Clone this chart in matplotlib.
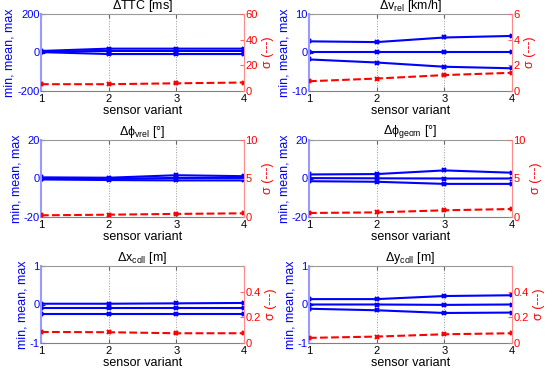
import numpy as np
import matplotlib
matplotlib.use('Agg')
import matplotlib.pyplot as plt

plt.rcParams['font.family'] = ['Liberation Sans', 'DejaVu Sans']
plt.rcParams['mathtext.fontset'] = 'custom'
plt.rcParams['mathtext.rm'] = 'Liberation Sans'
plt.rcParams['mathtext.it'] = 'Liberation Sans'

variants = [1, 2, 3, 4]

titles = [r'$\Delta$TTC [ms]', r'$\Delta$v$_\mathrm{rel}$ [km/h]',
          r'$\Delta\phi_\mathrm{vrel}$ [°]', r'$\Delta\phi_\mathrm{geom}$ [°]',
          r'$\Delta$x$_\mathrm{coll}$ [m]', r'$\Delta$y$_\mathrm{coll}$ [m]']

# min / mean / max per sensor variant
ttc_max = [8, 20, 20, 20]
ttc_mean = [5, 8, 8, 8]
ttc_min = [2, -8, -8, -8]
ttc_std = [5.3, 5.3, 6.0, 6.6]

vrel_max = [2.9, 2.7, 3.9, 4.3]
vrel_mean = [0.1, 0.1, 0.1, 0.1]
vrel_min = [-1.8, -2.6, -3.7, -4.1]
vrel_std = [0.76, 0.97, 1.24, 1.42]

phiv_max = [0.6, 0.4, 1.7, 1.2]
phiv_mean = [0.0, -0.2, 0.3, 0.3]
phiv_min = [-0.5, -0.8, -1.0, -1.0]
phiv_std = [0.22, 0.3, 0.4, 0.48]

phig_max = [2.1, 2.3, 4.2, 3.0]
phig_mean = [0.2, 0.1, 0.0, 0.0]
phig_min = [-1.4, -1.7, -2.8, -2.8]
phig_std = [0.52, 0.6, 0.87, 1.04]

xc_max = [0.02, 0.02, 0.03, 0.04]
xc_mean = [-0.10, -0.10, -0.10, -0.10]
xc_min = [-0.24, -0.24, -0.24, -0.24]
xc_std = [0.086, 0.084, 0.076, 0.076]

yc_max = [0.14, 0.14, 0.22, 0.24]
yc_mean = [0.0, 0.0, -0.01, 0.0]
yc_min = [-0.11, -0.15, -0.22, -0.21]
yc_std = [0.04, 0.05, 0.068, 0.076]

panels = [
    (ttc_min, ttc_mean, ttc_max, ttc_std, (-200, 200), [-200, 0, 200], (0, 60), [0, 20, 40, 60], ['0', '20', '40', '60']),
    (vrel_min, vrel_mean, vrel_max, vrel_std, (-10, 10), [-10, 0, 10], (0, 6), [0, 2, 4, 6], ['0', '2', '4', '6']),
    (phiv_min, phiv_mean, phiv_max, phiv_std, (-20, 20), [-20, 0, 20], (0, 10), [0, 5, 10], ['0', '5', '10']),
    (phig_min, phig_mean, phig_max, phig_std, (-20, 20), [-20, 0, 20], (0, 10), [0, 5, 10], ['0', '5', '10']),
    (xc_min, xc_mean, xc_max, xc_std, (-1, 1), [-1, 0, 1], (0, 0.6), [0, 0.2, 0.4], ['0', '0.2', '0.4']),
    (yc_min, yc_mean, yc_max, yc_std, (-1, 1), [-1, 0, 1], (0, 0.6), [0, 0.2, 0.4], ['0', '0.2', '0.4']),
]

fig = plt.figure(figsize=(5.57, 3.9), dpi=100)

lefts = [41 / 557, 309 / 557]
bottoms = [1 - 91 / 390, 1 - 217 / 390, 1 - 343 / 390]
w = 203 / 557
h = 77 / 390

for i, p in enumerate(panels):
    vmin, vmean, vmax, vstd, ylim, yt, ylim2, yt2, yl2 = p
    ax = fig.add_axes([lefts[i % 2], bottoms[i // 2], w, h])
    for v in (vmin, vmean, vmax):
        ax.plot(variants, v, color='blue', lw=1.5, marker='x', ms=3, mew=1.5)
    ax.set_xlim(1, 4)
    ax.set_ylim(*ylim)
    ax.set_xticks(variants)
    ax.set_yticks(yt)
    ax.set_yticklabels([str(t) for t in yt])
    ax.grid(axis='x', color='0.6', ls=':', lw=0.7)
    ax.tick_params(axis='x', direction='in', length=3, labelsize=8, colors='0.4', labelcolor='black', top=True, pad=2)
    ax.tick_params(axis='y', direction='in', length=3, labelsize=8, colors='blue', labelcolor='blue', pad=1)
    ax.spines['left'].set_color('#9999ff')
    ax.spines['left'].set_linewidth(1.5)
    ax.spines['top'].set_color('0.6')
    ax.spines['bottom'].set_color('0.5')
    ax.spines['right'].set_visible(False)
    ax.set_ylabel('min, mean, max', color='blue', fontsize=9, labelpad=1)
    ax.set_xlabel('sensor variant', fontsize=9, labelpad=1)
    ax.set_title(titles[i], fontsize=9, pad=1.5)

    ax2 = ax.twinx()
    ax2.plot(variants, vstd, color='red', lw=1.5, ls='--', marker='x', ms=3, mew=1.5)
    ax2.set_ylim(*ylim2)
    ax2.set_yticks(yt2)
    ax2.set_yticklabels(yl2)
    ax2.tick_params(axis='y', direction='in', length=3, labelsize=8, colors='#ff6666', labelcolor='red', pad=1)
    ax2.spines['right'].set_color('#ff8888')
    for s in ('left', 'top', 'bottom'):
        ax2.spines[s].set_visible(False)
    ax2.set_ylabel('σ (---)', color='red', fontsize=9, labelpad=3)

fig.savefig('out.png', dpi=100)
